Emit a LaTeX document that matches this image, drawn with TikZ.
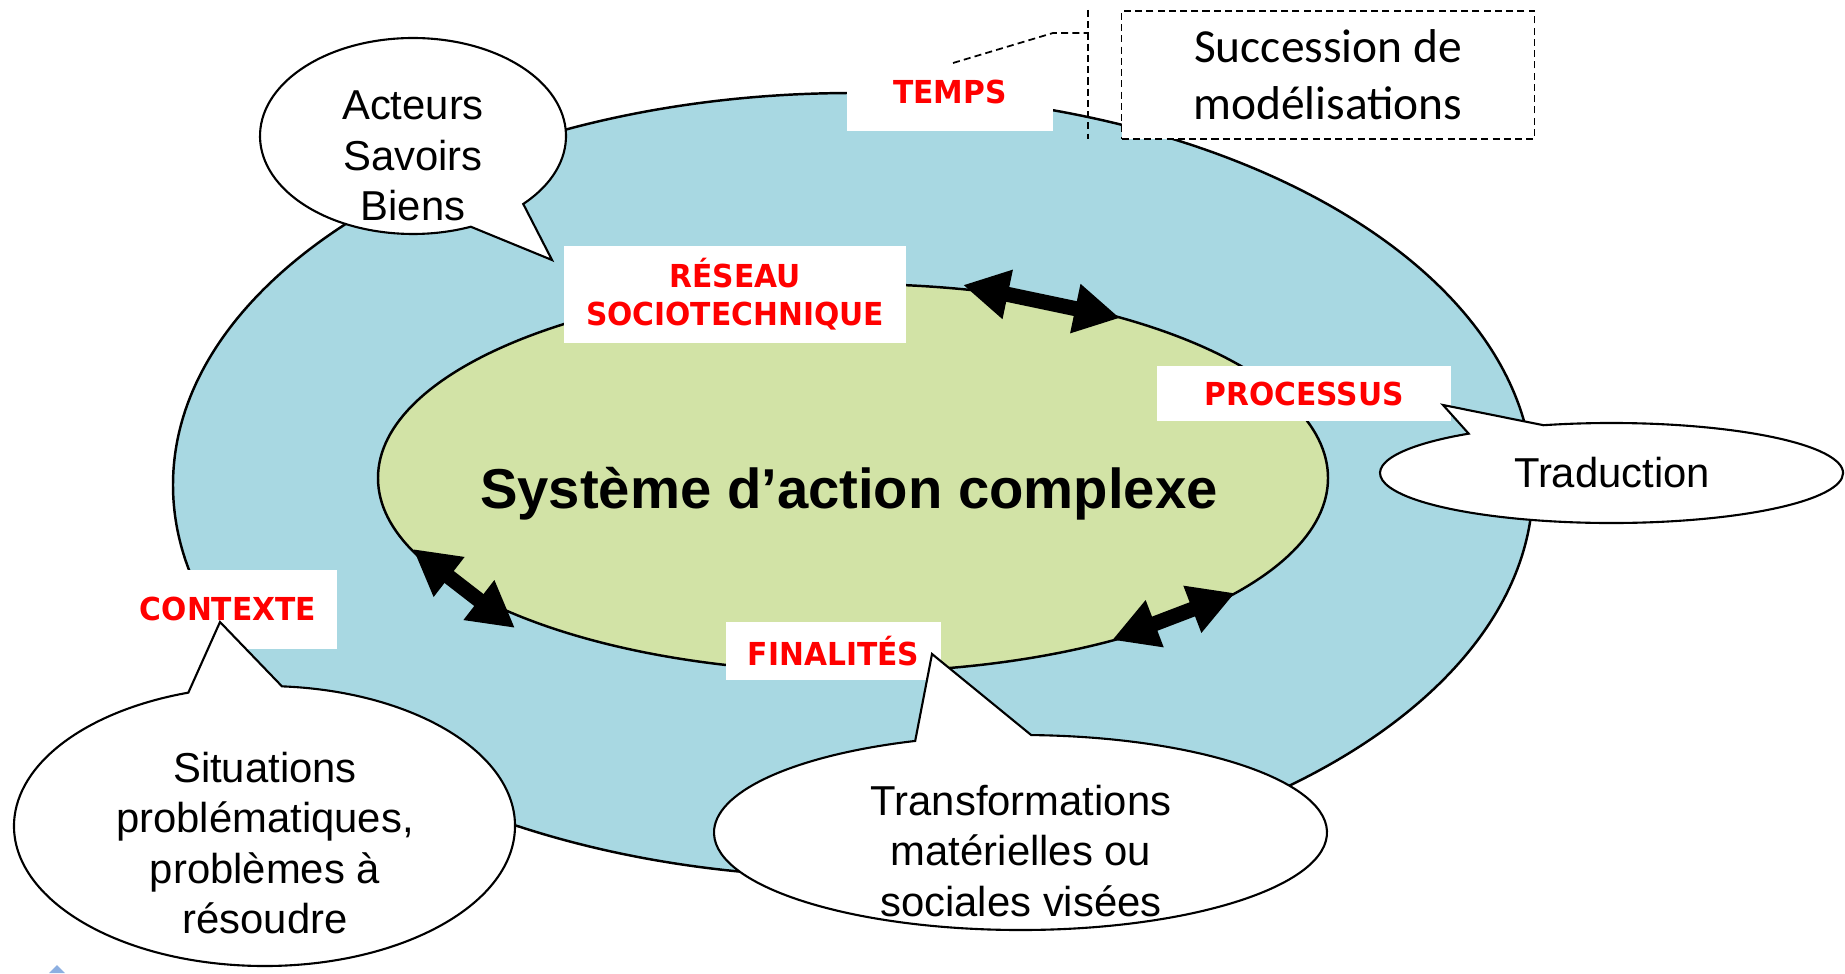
\documentclass[tikz,border=0pt]{standalone}
\usepackage{fontspec}
\setmainfont{Liberation Sans}
\newfontfamily\tagfont[FakeStretch=0.94]{DejaVu Sans}
\newfontfamily\notefont{Carlito}
\usetikzlibrary{calc,arrows.meta}
\definecolor{outerblue}{RGB}{168,216,226}
\definecolor{innergreen}{RGB}{210,227,166}
\definecolor{iconblue}{RGB}{140,175,225}
\tikzset{
  tag/.style={fill=white, text=red, font=\tagfont\bfseries\fontsize{9}{10.8}\selectfont, align=center, inner sep=0pt},
  bubble/.style={draw=black, line width=0.6pt, fill=white},
  bubbletext/.style={font=\fontsize{11.9}{14.4}\selectfont, align=center},
  twoway/.style={line width=4.3pt, {Triangle[length=13pt,width=13.4pt]}-{Triangle[length=13pt,width=13.4pt]}},
  leader/.style={line width=0.5pt, dash pattern=on 2pt off 1.2pt},
}
\def\bubble(#1)(#2:#3)(#4:#5)(#6){\draw[bubble] ($(#1)+(#4:#2 and #3)$) arc[start angle=#4, end angle=#5, x radius=#2, y radius=#3] -- (#6) -- cycle;}

\begin{document}
\begin{tikzpicture}
			%%%%% START %%%%%
			\useasboundingbox (0,0) rectangle (18.45,-9.73);
			
			\draw[fill=outerblue, line width=0.7pt] (8.53,-4.85) ellipse (6.80 and 3.92);
			\draw[fill=innergreen, line width=0.7pt] (8.53,-4.78) ellipse (4.75 and 1.94);
			
			\node[font=\bfseries\fontsize{16}{19}\selectfont, anchor=base] (sys) at (8.49,-5.08) {Système d’action complexe};
			
			\coordinate (ra) at (9.63,-2.85);
			\coordinate (rb) at (11.20,-3.18);
			\draw[twoway] (ra) -- (rb);
			\coordinate (la) at (4.13,-5.49);
			\coordinate (lb) at (5.15,-6.28);
			\draw[twoway] (la) -- (lb);
			\coordinate (fa) at (11.12,-6.40);
			\coordinate (fb) at (12.35,-5.93);
			\draw[twoway] (fa) -- (fb);
			
			\node[tag, minimum width=2.06cm, minimum height=0.78cm] (temps) at (9.50,-0.92) {TEMPS};
			\node[tag, minimum width=3.42cm, minimum height=0.97cm] (reseau) at (7.35,-2.945) {RÉSEAU\\SOCIOTECHNIQUE};
			\node[tag, minimum width=2.94cm, minimum height=0.55cm] (proc) at (13.04,-3.935) {PROCESSUS};
			\node[tag, minimum width=2.18cm, minimum height=0.79cm] (ctx) at (2.28,-6.09) {CONTEXTE};
			\node[tag, minimum width=2.15cm, minimum height=0.58cm] (fin) at (8.335,-6.51) {FINALITÉS};
			
			\node[draw, leader, fill=white, minimum width=4.13cm, minimum height=1.28cm, inner sep=0pt, align=center,
			font=\notefont\fontsize{13.5}{16.2}\selectfont] (succ) at (13.28,-0.75) {Succession de\\modélisations};
			\coordinate (lead) at (9.53,-0.63);
			\coordinate (bar) at (10.88,-0.10);
			\draw[leader] (lead) -- (10.53,-0.33) -- (bar |- 10.53,-0.33);
			\draw[leader] (bar) -- ++(0,-1.29);
			
			\bubble(4.13,-1.36)(1.53:0.98)(-43.9:292.2)(5.52,-2.60)
			\node[bubbletext] (acteurs) at (4.13,-1.56) {Acteurs\\Savoirs\\Biens};
			
			\bubble(16.115,-4.73)(2.315:0.50)(107.1:-231.9)(14.43,-4.05)
			\node[bubbletext] (trad) at (16.12,-4.73) {Traduction};
			
			\bubble(2.645,-8.26)(2.505:1.40)(86:-252.3)(2.20,-6.22)
			\node[bubbletext] (situ) at (2.65,-8.43) {Situations\\problématiques,\\problèmes à\\résoudre};
			
			\bubble(10.205,-8.325)(3.065:0.975)(88:-249.9)(9.32,-6.54)
			\node[bubbletext] (transf) at (10.21,-8.51) {Transformations\\matérielles ou\\sociales visées};
			
			\fill[iconblue] (0.57,-9.65) -- (0.49,-9.73) -- (0.65,-9.73) -- cycle;
			%%%%% END %%%%%
\end{tikzpicture}
\end{document}
